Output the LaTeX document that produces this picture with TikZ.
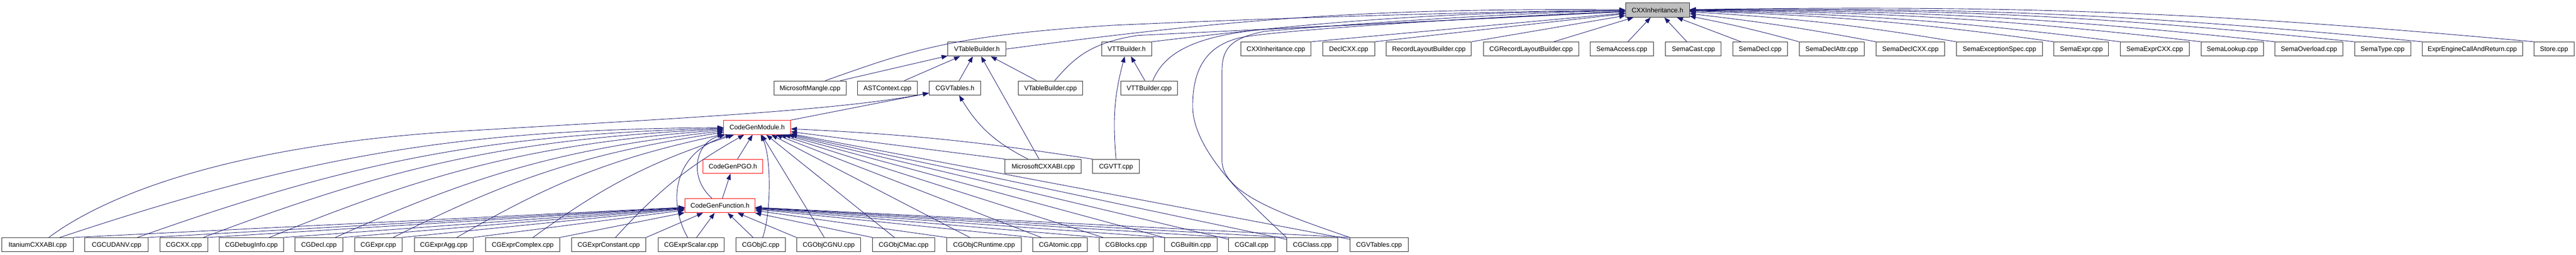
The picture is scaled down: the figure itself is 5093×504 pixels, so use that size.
\documentclass[tikz,border=0pt]{standalone}
\usepackage{fontspec}
\setmainfont{Liberation Sans}
\usetikzlibrary{arrows.meta}
\definecolor{edgeblue}{HTML}{191970}
\definecolor{rootgray}{HTML}{BFBFBF}
\newcommand\uu{0.2pt}
\begin{document}
\begin{tikzpicture}[x=0.2pt,y=-0.2pt,
 box/.style={draw=black!85, fill=white, line width=0.2pt, minimum height=28*\uu, inner sep=0pt, text height=1.86pt, text depth=0pt, font=\fontsize{2.6}{3}\selectfont},
 redbox/.style={box, draw=red},
 rootbox/.style={box, fill=rootgray},
 dep/.style={draw=edgeblue, line width=0.18pt, -{Triangle[length=2.4pt,width=1.8pt]}},
]
\useasboundingbox (0,0) rectangle (5093,504);
% root
\node[rootbox, minimum width=126*\uu] (cxxh) at (3277,20) {CXXInheritance.h};
% row 2
\node[box, minimum width=115*\uu] (vtbh) at (1931.5,97) {VTableBuilder.h};
\node[box, minimum width=99*\uu] (vttbh) at (2227.5,97) {VTTBuilder.h};
\node[box, minimum width=139*\uu] (cxxcpp) at (2522.5,97) {CXXInheritance.cpp};
\node[box, minimum width=103*\uu] (declcxx) at (2666.5,97) {DeclCXX.cpp};
\node[box, minimum width=168*\uu] (rlb) at (2825,97) {RecordLayoutBuilder.cpp};
\node[box, minimum width=188*\uu] (cgrlb) at (3027,97) {CGRecordLayoutBuilder.cpp};
\node[box, minimum width=125*\uu] (semaaccess) at (3206.5,97) {SemaAccess.cpp};
\node[box, minimum width=110*\uu] (semacast) at (3348,97) {SemaCast.cpp};
\node[box, minimum width=108*\uu] (semadecl) at (3480,97) {SemaDecl.cpp};
\node[box, minimum width=129*\uu] (semadeclattr) at (3621.5,97) {SemaDeclAttr.cpp};
\node[box, minimum width=136*\uu] (semadeclcxx) at (3777,97) {SemaDeclCXX.cpp};
\node[box, minimum width=170*\uu] (semaexc) at (3953,97) {SemaExceptionSpec.cpp};
\node[box, minimum width=108*\uu] (semaexpr) at (4115,97) {SemaExpr.cpp};
\node[box, minimum width=136*\uu] (semaexprcxx) at (4260,97) {SemaExprCXX.cpp};
\node[box, minimum width=123*\uu] (semalookup) at (4413.5,97) {SemaLookup.cpp};
\node[box, minimum width=134*\uu] (semaover) at (4565,97) {SemaOverload.cpp};
\node[box, minimum width=111*\uu] (sematype) at (4710.5,97) {SemaType.cpp};
\node[box, minimum width=198*\uu] (expreng) at (4888,97) {ExprEngineCallAndReturn.cpp};
\node[box, minimum width=79*\uu] (store) at (5049.5,97) {Store.cpp};
% row 3
\node[box, minimum width=143*\uu] (mmangle) at (1601.5,174) {MicrosoftMangle.cpp};
\node[box, minimum width=119*\uu] (astctx) at (1754.5,174) {ASTContext.cpp};
\node[box, minimum width=102*\uu] (cgvtblh) at (1888,174) {CGVTables.h};
\node[box, minimum width=128*\uu] (vtbcpp) at (2077,174) {VTableBuilder.cpp};
\node[box, minimum width=112*\uu] (vttbcpp) at (2272,174) {VTTBuilder.cpp};
% codegen headers
\node[redbox, minimum width=132*\uu] (cgm) at (1497,252) {CodeGenModule.h};
\node[redbox, minimum width=118*\uu] (cgpgo) at (1449,329) {CodeGenPGO.h};
\node[box, minimum width=151*\uu] (mscxxabi) at (2062.5,329) {MicrosoftCXXABI.cpp};
\node[box, minimum width=93*\uu] (cgvtt) at (2206.5,329) {CGVTT.cpp};
\node[redbox, minimum width=139*\uu] (cgf) at (1423.5,406.5) {CodeGenFunction.h};
% bottom row
\node[box, minimum width=141*\uu] (itanium) at (74.5,484) {ItaniumCXXABI.cpp};
\node[box, minimum width=125*\uu] (cgcudanv) at (230.5,484) {CGCUDANV.cpp};
\node[box, minimum width=95*\uu] (cgcxx) at (363.5,484) {CGCXX.cpp};
\node[box, minimum width=128*\uu] (cgdebug) at (497,484) {CGDebugInfo.cpp};
\node[box, minimum width=95*\uu] (cgdecl) at (630.5,484) {CGDecl.cpp};
\node[box, minimum width=94*\uu] (cgexpr) at (748,484) {CGExpr.cpp};
\node[box, minimum width=117*\uu] (cgexpragg) at (877.5,484) {CGExprAgg.cpp};
\node[box, minimum width=147*\uu] (cgexprcomplex) at (1033.5,484) {CGExprComplex.cpp};
\node[box, minimum width=147*\uu] (cgexprconst) at (1203.5,484) {CGExprConstant.cpp};
\node[box, minimum width=131*\uu] (cgexprscalar) at (1366.5,484) {CGExprScalar.cpp};
\node[box, minimum width=98*\uu] (cgobjc) at (1504,484) {CGObjC.cpp};
\node[box, minimum width=127*\uu] (cgobjcgnu) at (1638.5,484) {CGObjCGNU.cpp};
\node[box, minimum width=123*\uu] (cgobjcmac) at (1786.5,484) {CGObjCMac.cpp};
\node[box, minimum width=147*\uu] (cgobjcrt) at (1945.5,484) {CGObjCRuntime.cpp};
\node[box, minimum width=108*\uu] (cgatomic) at (2096,484) {CGAtomic.cpp};
\node[box, minimum width=107*\uu] (cgblocks) at (2226.5,484) {CGBlocks.cpp};
\node[box, minimum width=103*\uu] (cgbuiltin) at (2354.5,484) {CGBuiltin.cpp};
\node[box, minimum width=91*\uu] (cgcall) at (2474.5,484) {CGCall.cpp};
\node[box, minimum width=101*\uu] (cgclass) at (2594.5,484) {CGClass.cpp};
\node[box, minimum width=115*\uu] (cgvtblcpp) at (2726.5,484) {CGVTables.cpp};

% ---- edges into CXXInheritance.h
\draw[dep] (vtbh.east) to[bend left=4] (cxxh);
\draw[dep] (vttbh.north east) to[bend left=3] (cxxh);
\draw[dep] (cxxcpp.north east) -- (cxxh);
\draw[dep] (declcxx.north east) -- (cxxh);
\draw[dep] (rlb.north east) -- (cxxh);
\draw[dep] ([xshift=45*\uu]cgrlb.north) -- (cxxh);
\draw[dep] ([xshift=12*\uu]semaaccess.north) -- (cxxh);
\draw[dep] ([xshift=-13*\uu]semacast.north) -- (cxxh);
\draw[dep] ([xshift=-38*\uu]semadecl.north) -- (cxxh);
\draw[dep] (semadeclattr.north west) to[bend right=2] (cxxh);
\draw[dep] (semadeclcxx.north west) to[bend right=2] (cxxh);
\draw[dep] (semaexc.north west) to[bend right=3] (cxxh);
\draw[dep] (semaexpr.north west) to[bend right=3] (cxxh);
\draw[dep] (semaexprcxx.north west) to[bend right=3] (cxxh);
\draw[dep] (semalookup.north west) to[bend right=3] (cxxh);
\draw[dep] (semaover.north west) to[bend right=3] (cxxh);
\draw[dep] (sematype.north west) to[bend right=3] (cxxh);
\draw[dep] (expreng.north west) to[bend right=3] (cxxh);
\draw[dep] (store.north west) to[bend right=3] (cxxh);
\draw[dep] ([xshift=30*\uu]mmangle.north) .. controls (1800,100) and (1880,70) .. (2200,50) .. controls (2600,32) and (3000,22) .. (cxxh);
\draw[dep] ([xshift=8*\uu]vtbcpp.north) .. controls (2120,120) and (2150,85) .. (2250,70) -- (cxxh);
\draw[dep] ([xshift=7*\uu]vttbcpp.north) .. controls (2300,110) and (2350,72) .. (2500,58) -- (cxxh);
\draw[dep] (cgclass.north west) .. controls (2470,400) and (2358,300) .. (2358,210) .. controls (2358,130) and (2390,90) .. (2450,75) .. controls (2500,62) and (2900,35) .. (cxxh);
\draw[dep] (cgvtblcpp.north west) .. controls (2540,425) and (2420,385) .. (2416,320) -- (2416,140) .. controls (2416,95) and (2435,75) .. (2500,62) .. controls (2700,45) and (3000,25) .. (cxxh);

% ---- VTableBuilder.h / VTTBuilder.h
\draw[dep] ([xshift=60*\uu]mmangle.north) -- (vtbh);
\draw[dep] (astctx) -- (vtbh);
\draw[dep] (cgvtblh) -- (vtbh);
\draw[dep] (vtbcpp) -- (vtbh);
\draw[dep] (mscxxabi) -- (vtbh);
\draw[dep] (vttbcpp) -- (vttbh);
\draw[dep] (cgvtt.north) to[out=95,in=-105] (vttbh);

% ---- CGVTables.h
\draw[dep] (cgm.north east) -- (cgvtblh);
\draw[dep] ([xshift=22*\uu]itanium.north) .. controls (230,370) and (500,285) .. (900,260) .. controls (1300,236) and (1650,220) .. (cgvtblh);
\draw[dep] ([xshift=-30*\uu]mscxxabi.north) to[bend left=16] (cgvtblh);

% ---- CodeGenModule.h / CodeGenPGO.h
\draw[dep] (mscxxabi.north west) -- (cgm);
\draw[dep] (cgvtt.north west) to[bend right=3] (cgm);
\draw[dep] (cgpgo) -- (cgm);
\draw[dep] (cgf) -- (cgpgo);
\draw[dep] ([xshift=-16*\uu]cgf.north) .. controls (1360,350) and (1375,280) .. (cgm);

% bottom left group
\foreach \n in {itanium,cgcudanv,cgcxx,cgdebug,cgdecl,cgexpr,cgexpragg,cgexprcomplex,cgexprconst}{
  \draw[dep] (\n) to[bend left=9] (cgm);
  \draw[dep] (\n.north east) -- (cgf);
}
% near ones
\draw[dep] ([xshift=-7*\uu]cgexprscalar.north) .. controls (1320,400) and (1330,300) .. (cgm);
\draw[dep] (cgexprscalar) -- (cgf);
\draw[dep] ([xshift=4*\uu]cgobjc.north) .. controls (1525,420) and (1525,310) .. (cgm);
\draw[dep] (cgobjc) -- (cgf);
% bottom right group
\foreach \n in {cgobjcgnu,cgobjcmac,cgobjcrt,cgatomic,cgblocks,cgbuiltin,cgcall,cgclass,cgvtblcpp}{
  \draw[dep] (\n) -- (cgm);
  \draw[dep] (\n.north west) -- (cgf);
}
\end{tikzpicture}
\end{document}
